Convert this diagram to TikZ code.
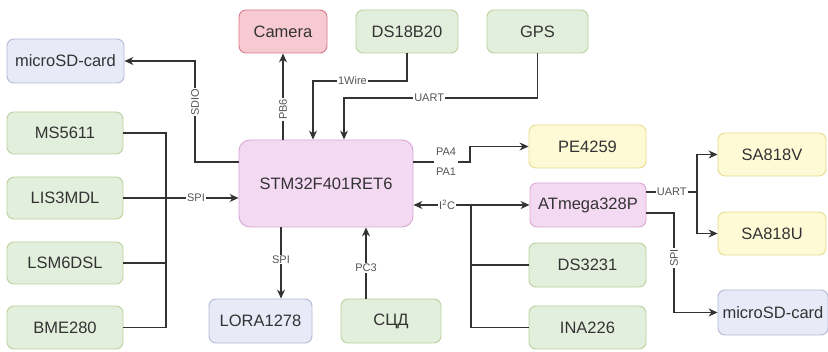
\documentclass[tikz,border=0pt]{standalone}
\usepackage{fontspec}
\setmainfont{Liberation Sans}
\usetikzlibrary{arrows.meta}
\definecolor{gfill}{HTML}{E3EFDD}
\definecolor{gline}{HTML}{BCD29C}
\definecolor{pfill}{HTML}{F4D9F2}
\definecolor{pline}{HTML}{D9A6D6}
\definecolor{yfill}{HTML}{FFFAD6}
\definecolor{yline}{HTML}{E8DC8E}
\definecolor{bfill}{HTML}{E8EAF8}
\definecolor{bline}{HTML}{B4B9D6}
\definecolor{rfill}{HTML}{F7C9D1}
\definecolor{rline}{HTML}{D9788A}
\definecolor{wirec}{HTML}{333333}
\definecolor{lblc}{HTML}{555555}
\begin{document}
\begin{tikzpicture}[x=1pt,y=-1pt,
  box/.style={draw, rounded corners=7pt, line width=0.9pt, inner sep=0pt, text=black!80,
    font=\fontsize{16.5}{18}\selectfont},
  gbox/.style={box, fill=gfill, draw=gline},
  pbox/.style={box, fill=pfill, draw=pline},
  ybox/.style={box, fill=yfill, draw=yline},
  bbox/.style={box, fill=bfill, draw=bline},
  rbox/.style={box, fill=rfill, draw=rline},
  wire/.style={draw=wirec, line width=1.1pt},
  arr/.style={wire, -{Stealth[length=9pt,width=8pt]}},
  lbl/.style={fill=white, inner sep=1pt, text=lblc, font=\fontsize{11}{12}\selectfont}
]
\fill[white] (0,0) rectangle (828,352);
\useasboundingbox (0,0) rectangle (828,352);

% top row
\node[rbox, minimum width=88pt, minimum height=43pt] (camera) at (283,31.5) {Camera};
\node[gbox, minimum width=102pt, minimum height=43pt] (ds18) at (407,31.5) {DS18B20};
\node[gbox, minimum width=101pt, minimum height=43pt] (gps) at (537.5,31.5) {GPS};
\node[bbox, minimum width=117pt, minimum height=44pt] (sdL) at (65.5,61) {microSD-card};

% left sensors
\node[gbox, minimum width=116pt, minimum height=42pt] (ms) at (65,133) {MS5611};
\node[gbox, minimum width=116pt, minimum height=42pt] (lis) at (65,198) {LIS3MDL};
\node[gbox, minimum width=116pt, minimum height=42pt] (lsm) at (65,263) {LSM6DSL};
\node[gbox, minimum width=116pt, minimum height=43pt] (bme) at (65,327.5) {BME280};

% MCU
\node[pbox, rounded corners=11pt, minimum width=174pt, minimum height=87pt] (stm) at (326,183.5) {STM32F401RET6};

% bottom
\node[bbox, minimum width=103pt, minimum height=44pt] (lora) at (260.5,321) {LORA1278};
\node[gbox, minimum width=100pt, minimum height=44pt] (scd) at (391,321) {СЦД};

% right
\node[ybox, minimum width=117pt, minimum height=43pt] (pe) at (587.5,146.5) {PE4259};
\node[pbox, minimum width=116pt, minimum height=44pt] (atm) at (588,205) {ATmega328P};
\node[gbox, minimum width=117pt, minimum height=44pt] (dsrtc) at (587.5,265) {DS3231};
\node[gbox, minimum width=117pt, minimum height=43pt] (ina) at (587.5,327.5) {INA226};
\node[ybox, minimum width=108pt, minimum height=43pt] (sav) at (772,154.5) {SA818V};
\node[ybox, minimum width=108pt, minimum height=43pt] (sau) at (772,233.5) {SA818U};
\node[bbox, minimum width=110pt, minimum height=45pt] (sdR) at (773,312.5) {microSD-card};

% SDIO
\coordinate (sdioB) at (195,61);
\draw[arr] (stm.west |- 0,162) -| (sdioB) -- (sdL.east);
\node[lbl, rotate=90] (sdiol) at (195,102) {SDIO};

% PB6
\draw[arr] (stm.north -| camera.south) -- (camera.south) node[lbl, rotate=90, pos=0.35] (pb6l) {PB6};

% 1Wire
\coordinate (owB) at (313,81);
\draw[arr] (ds18.south |- 0,53) |- (owB) node[lbl, pos=0.79] (owl) {1Wire} -- (stm.north -| owB);

% UART GPS
\coordinate (guB) at (344,98);
\draw[arr] (gps.south) |- (guB) node[lbl, pos=0.78] (gul) {UART} -- (stm.north -| guB);

% sensor bus
\coordinate (busL) at (166,0);
\draw[wire] (ms.east) -| (busL |- bme.east) -- (bme.east);
\draw[wire] (lsm.east) -- (lsm.east -| busL);
\draw[arr] (lis.east) -- (stm.west |- lis.east) node[lbl, pos=0.63] (spil) {SPI};

% LORA SPI
\coordinate (loraX) at (281,0);
\draw[arr] (stm.south -| loraX) -- (lora.north -| loraX) node[lbl, pos=0.45] (spi2l) {SPI};

% PC3
\coordinate (scdX) at (366,0);
\draw[arr] (scd.north -| scdX) -- (stm.south -| scdX) node[lbl, pos=0.43] (pc3l) {PC3};

% PA4 / PA1
\coordinate (paB) at (470,162);
\draw[arr] (stm.east |- paB) -- (paB) |- (pe.west);
\node[lbl, align=center, inner sep=2pt, font=\fontsize{11}{20}\selectfont] (pal) at (446,162) {PA4\\PA1};

% I2C
\draw[wire, {Stealth[length=9pt,width=8pt]}-{Stealth[length=9pt,width=8pt]}] (stm.east |- atm.west) -- (atm.west) node[lbl, pos=0.29] (i2cl) {I\textsuperscript{2}C};
\coordinate (busR) at (471,205);
\draw[wire] (busR) |- (ina.west);
\draw[wire] (busR |- dsrtc.west) -- (dsrtc.west);

% UART ATmega
\coordinate (uaB) at (697,192);
\draw[wire] (atm.east |- uaB) -- (uaB) node[lbl, midway] (ual) {UART};
\draw[arr] (uaB) |- (sav.west);
\draw[arr] (uaB) |- (sau.west);

% SPI ATmega -> microSD
\coordinate (asB) at (674,213);
\draw[arr] (atm.east |- asB) -- (asB) |- (sdR.west);
\node[lbl, rotate=90] (spi3l) at (674,258) {SPI};
\end{tikzpicture}
\end{document}
